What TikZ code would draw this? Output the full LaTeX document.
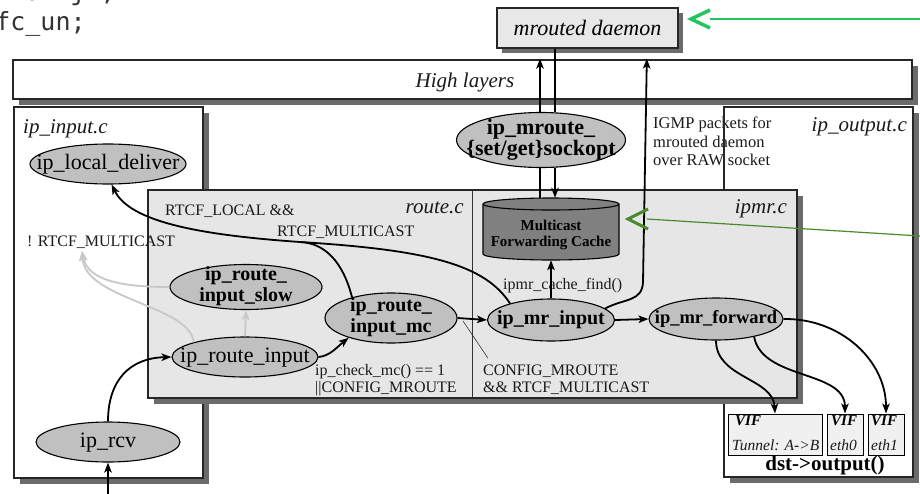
\documentclass[tikz,border=0pt]{standalone}
\usepackage{fontspec}
\setmainfont{Liberation Serif}
\newfontfamily\codefont{DejaVu Sans Mono}
\usetikzlibrary{arrows.meta,shapes.geometric}

\definecolor{ellfill}{HTML}{C0C0C0}
\definecolor{boxfill}{HTML}{E6E6E6}
\definecolor{daemonfill}{HTML}{E8E8E8}
\definecolor{shadowc}{HTML}{6B6B6B}
\definecolor{cachefill}{HTML}{808080}
\definecolor{viffill}{HTML}{F0F0F0}
\definecolor{garrow}{HTML}{C8C8C8}
\definecolor{greenA}{HTML}{22C55E}
\definecolor{greenB}{HTML}{4A8A2C}
\definecolor{codec}{HTML}{333333}
\definecolor{ink}{HTML}{1A1A1A}

% text that does not enlarge the ellipse around it
\newcommand\ctr[1]{\smash{\makebox[0pt]{\raisebox{-0.26em}{\begin{tabular}{@{}c@{}}#1\end{tabular}}}}}

\tikzset{
  outline/.style={draw=black!85, line width=1.2pt},
  func/.style={ellipse, draw=black, line width=1.1pt, fill=ellfill, inner sep=0pt,
    font=\fontsize{22}{24}\selectfont},
  bfunc/.style={func, font=\bfseries\fontsize{20}{21}\selectfont},
  flow/.style={line width=1.8pt, -{Stealth[length=10pt,width=7.5pt,inset=2.5pt]}},
  plain/.style={line width=1.8pt},
  gflow/.style={flow, draw=garrow},
  lbl/.style={inner sep=0pt, anchor=base west, text=ink, font=\fontsize{16}{18}\selectfont},
  title/.style={inner sep=0pt, text=ink, font=\itshape\fontsize{21}{21}\selectfont},
  vif/.style={draw=black, line width=1pt, fill=viffill, inner sep=0pt, minimum height=41pt},
  vifhead/.style={inner sep=0pt, anchor=base west, font=\bfseries\itshape\fontsize{15}{15}\selectfont},
  vifname/.style={inner sep=0pt, anchor=base west, text=ink, font=\itshape\fontsize{15.5}{15.5}\selectfont},
  code/.style={inner sep=0pt, anchor=base west, text=codec, font=\codefont\fontsize{25}{30}\selectfont},
}

\begin{document}
\begin{tikzpicture}[x=1pt,y=-1pt]
\useasboundingbox (0,0) rectangle (920,493);

% source code fragment behind the figure
\node[code] (code1) at (10,0) {hdr.jt,};
\node[code] (code2) at (-50,30) {\}~mfc\_un;};

% High layers
\fill[shadowc] (19,66) rectangle (918,105);
\draw[outline, fill=white] (13,60) rectangle (912,99);
\node[title, anchor=base] (high) at (465,87) {High layers};

% ip_input.c
\fill[shadowc] (20,113) rectangle (209,484);
\draw[outline, fill=white] (14,107) rectangle (203,478);
\node[title, anchor=base west] (tin) at (23,133) {ip\_input.c};

% ip_output.c
\fill[shadowc] (730,113) rectangle (919,483);
\fill[white] (724,107) rectangle (913,477);
\node[lbl, font=\fontsize{16.5}{18}\selectfont] (igmp1) at (653,128) {IGMP packets for};
\node[lbl, font=\fontsize{16.5}{18}\selectfont] (igmp2) at (653,147) {mrouted daemon};
\node[lbl, font=\fontsize{16.5}{18}\selectfont] (igmp3) at (653,165) {over RAW socket};
\draw[outline] (724,107) rectangle (913,477);
\node[title, anchor=base east] (tout) at (907,131) {ip\_output.c};

% route.c / ipmr.c
\fill[shadowc] (154,196) rectangle (803,404);
\draw[outline, fill=boxfill] (148,190) rectangle (797,398);
\draw[draw=black!80, line width=1pt] (472,190) -- (472,398);
\node[title, anchor=base east] (troute) at (464,213) {route.c};
\node[title, anchor=base east] (tipmr) at (787,213) {ipmr.c};

% mrouted daemon
\fill[shadowc] (502,13) rectangle (683,53);
\node[outline, fill=daemonfill, minimum width=181pt, minimum height=40pt, inner sep=0pt,
  font=\itshape\fontsize{22}{22}\selectfont] (daemon) at (587.5,28) {mrouted daemon};

% condition labels
\node[lbl] (c1) at (165,215) {RTCF\_LOCAL \&\&};
\node[lbl] (c2) at (277,236) {RTCF\_MULTICAST};
\node[lbl] (c3) at (27,246) {! RTCF\_MULTICAST};
\node[lbl] (cfind) at (503,289) {ipmr\_cache\_find()};
\node[lbl] (chk1) at (315,375) {ip\_check\_mc() == 1};
\node[lbl] (chk2) at (315,392) {||CONFIG\_MROUTE};
\node[lbl] (cfg1) at (483,375) {CONFIG\_MROUTE};
\node[lbl] (cfg2) at (483,392) {\&\& RTCF\_MULTICAST};

% multicast forwarding cache (cylinder)
\node[minimum width=136pt, minimum height=62pt, inner sep=0pt] (cache) at (551,229) {};
\fill[cachefill] (483,204) -- (483,254) arc[start angle=180, end angle=0, x radius=68, y radius=6]
  -- (619,204) arc[start angle=0, end angle=-180, x radius=68, y radius=6] -- cycle;
\draw[line width=1.1pt] (483,204) -- (483,254) arc[start angle=180, end angle=0, x radius=68, y radius=6]
  -- (619,204) arc[start angle=0, end angle=-180, x radius=68, y radius=6] -- cycle;
\draw[line width=1.1pt] (483,204) arc[start angle=180, end angle=0, x radius=68, y radius=6];
\node[inner sep=0pt, align=center, font=\bfseries\fontsize{15}{16.5}\selectfont] (cachetxt) at (551,235)
  {Multicast\\Forwarding Cache};

% functions
\node[func, minimum width=156pt, minimum height=40pt] (local) at (108,164) {\ctr{ip\_local\_deliver}};
\node[bfunc, minimum width=152pt, minimum height=45pt] (slow) at (246,287) {\ctr{ip\_route\_\\input\_slow}};
\node[func, minimum width=146pt, minimum height=40pt] (rin) at (245,357) {\ctr{ip\_route\_input}};
\node[bfunc, minimum width=132pt, minimum height=50pt] (mcin) at (391,318) {\ctr{ip\_route\_\\input\_mc}};
\node[bfunc, minimum width=127pt, minimum height=42pt] (mrin) at (551,320) {\ctr{ip\_mr\_input}};
\node[bfunc, minimum width=134pt, minimum height=42pt, font=\bfseries\fontsize{18.5}{21}\selectfont] (mrfw) at (716,319)
  {\ctr{ip\_mr\_forward}};
\node[func, minimum width=144pt, minimum height=40pt] (rcv) at (108,442) {\ctr{ip\_rcv}};
\node[bfunc, minimum width=169pt, minimum height=55pt, font=\bfseries\fontsize{22}{21}\selectfont] (sock) at (541,140)
  {\ctr{ip\_mroute\_\\\{set/get\}sockopt}};

% virtual interfaces
\node[vif, minimum width=94pt] (tun) at (775,434.5) {};
\node[vif, minimum width=36pt] (eth0) at (845,434.5) {};
\node[vif, minimum width=36pt] (eth1) at (886,434.5) {};
\node[vifhead] (v1) at (735,425) {VIF};
\node[vifhead] (v2) at (831,425) {VIF};
\node[vifhead] (v3) at (871,425) {VIF};
\node[vifname] (n1) at (732,450) {Tunnel: A->B};
\node[vifname] (n2) at (830,450) {eth0};
\node[vifname] (n3) at (871,450) {eth1};
\node[inner sep=0pt, anchor=base, font=\bfseries\fontsize{21}{21}\selectfont] (dst) at (825,470) {dst->output()};

% connectors
\coordinate (xa) at (540,0);
\coordinate (xb) at (555,0);
\coordinate (xc) at (647,0);
\draw[flow, shorten >=10pt] (sock.north -| xa) -- (daemon.south -| xa);
\draw[plain] (daemon.south -| xb) -- (sock.north -| xb);
\draw[plain] (sock.south -| xa) -- (cache.north -| xa);
\draw[flow] (sock.south -| xb) -- (cache.north -| xb);
\draw[flow] (mrin.north) -- (cache.south);
\draw[flow, shorten >=10pt] (mrin.12) .. controls (625,298) and (642,302) .. (643,282) -- (daemon.south -| xc);

\coordinate (j1) at (300,242);
\draw[plain] (mrin.158) .. controls (485,265) and (430,250) .. (j1);
\draw[plain] (mcin.152) .. controls (343,262) and (325,243) .. (j1);
\draw[flow] (j1) .. controls (200,235) and (130,222) .. (local.-80);

\draw[flow] (mcin.east) -- (mrin.west);
\draw[flow] (mrin.east) -- (mrfw.west);
\draw[flow] (rin.east) .. controls (330,356) and (337,347) .. (mcin.205);
\draw[flow] (rcv.north) .. controls (108,380) and (130,358) .. (rin.west);
\coordinate (inp) at (108,500);
\draw[flow] (inp) -- (rcv.south);

\coordinate (gtip) at (82,251);
\draw[gflow] (rin.north) -- (slow.south);
\draw[gflow] (slow.west) .. controls (120,287) and (88,280) .. (gtip);
\draw[gflow] (rin.164) .. controls (190,305) and (85,300) .. (gtip);

\draw[flow] (mrfw.south) .. controls (716,378) and (773,378) .. (tun.north);
\draw[flow] (mrfw.-25) .. controls (762,380) and (845,370) .. (eth0.north);
\draw[flow] (mrfw.east) .. controls (840,318) and (886,360) .. (eth1.north);

\coordinate (lead) at (463,321);
\draw[line width=0.6pt, draw=black!80] ([xshift=5pt, yshift=6pt]cfg1.north west) -- (lead);

% annotation pointers
\coordinate (ga) at (691,19);
\coordinate (gaend) at (920,19);
\draw[greenA, line width=1.5pt] (710,19) -- (gaend);
\draw[greenA, line width=3.5pt] ([shift={(19,-9)}]ga) -- (ga) -- ([shift={(19,9)}]ga);
\coordinate (gb) at (628,219);
\coordinate (gbend) at (920,236);
\draw[greenB, line width=1.2pt] (647,219) -- (gbend);
\draw[greenB, line width=3pt] ([shift={(20,-10)}]gb) -- (gb) -- ([shift={(20,10)}]gb);
\end{tikzpicture}
\end{document}
